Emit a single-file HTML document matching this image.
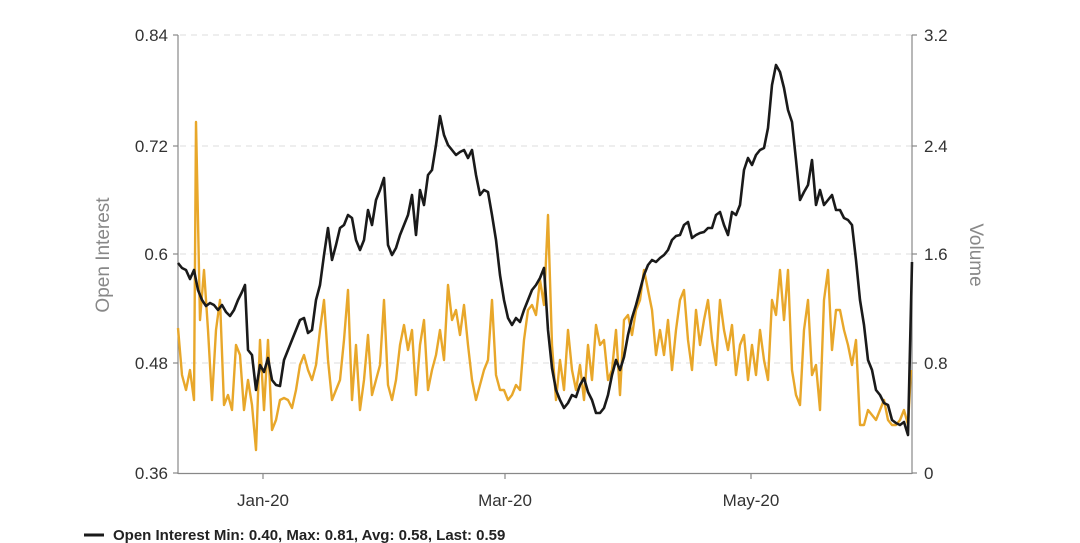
<!DOCTYPE html>
<html><head><style>body{margin:0;background:#fff}svg{display:block;font-family:"Liberation Sans",sans-serif}</style></head><body>
<svg width="1080" height="543" viewBox="0 0 1080 543">
<g stroke="#ddd" stroke-dasharray="6,5" stroke-width="1">
<line x1="180" y1="35" x2="912" y2="35"/><line x1="180" y1="146" x2="912" y2="146"/><line x1="180" y1="254" x2="912" y2="254"/><line x1="180" y1="363" x2="912" y2="363"/></g>
<g stroke="#888" stroke-width="1.2" fill="none">
<line x1="178" y1="35" x2="178" y2="474"/><line x1="912" y1="35" x2="912" y2="474"/><line x1="178" y1="473.5" x2="912" y2="473.5"/>
<line x1="173" y1="35" x2="178" y2="35"/><line x1="173" y1="146" x2="178" y2="146"/><line x1="173" y1="254" x2="178" y2="254"/><line x1="173" y1="363" x2="178" y2="363"/><line x1="173" y1="473" x2="178" y2="473"/>
<line x1="912" y1="35" x2="917" y2="35"/><line x1="912" y1="146" x2="917" y2="146"/><line x1="912" y1="254" x2="917" y2="254"/><line x1="912" y1="363" x2="917" y2="363"/><line x1="912" y1="473" x2="917" y2="473"/>
<line x1="263" y1="473" x2="263" y2="479"/><line x1="505" y1="473" x2="505" y2="479"/><line x1="751" y1="473" x2="751" y2="479"/></g>
<g font-size="17" fill="#333" text-anchor="end">
<text x="168" y="41">0.84</text><text x="168" y="152">0.72</text><text x="168" y="260">0.6</text><text x="168" y="369">0.48</text><text x="168" y="479">0.36</text></g>
<g font-size="17" fill="#333">
<text x="924" y="41">3.2</text><text x="924" y="152">2.4</text><text x="924" y="260">1.6</text><text x="924" y="369">0.8</text><text x="924" y="479">0</text></g>
<g font-size="17" fill="#333" text-anchor="middle">
<text x="263" y="506">Jan-20</text><text x="505" y="506">Mar-20</text><text x="751" y="506">May-20</text></g>
<text transform="translate(109,255) rotate(-90)" font-size="19" fill="#888" text-anchor="middle">Open Interest</text>
<text transform="translate(970,255) rotate(90)" font-size="19" fill="#888" text-anchor="middle">Volume</text>
<polyline fill="none" stroke="#e8a72a" stroke-width="2.4" stroke-linejoin="round" points="178,328 182,375 186,390 190,370 194,400 196,122 200,320 204,270 208,330 212,400 216,330 220,300 224,405 228,395 232,410 236,345 240,355 244,410 248,380 252,405 256,450 260,340 264,410 268,340 272,430 276,420 280,400 284,398 288,400 292,408 296,390 300,365 304,355 308,370 312,380 316,365 320,330 324,300 328,360 332,400 336,390 340,380 344,340 348,290 352,400 356,345 360,410 364,380 368,335 372,395 376,380 380,365 384,300 388,385 392,400 396,380 400,345 404,325 408,350 412,330 416,395 420,345 424,320 428,390 432,370 436,355 440,330 444,360 448,285 452,320 456,310 460,335 464,305 468,345 472,380 476,400 480,385 484,370 488,360 492,300 496,375 500,390 504,390 508,400 512,395 516,385 520,390 524,340 528,310 532,305 536,315 540,280 544,305 548,215 552,345 556,400 560,360 564,390 568,330 572,370 576,390 580,365 584,400 588,345 592,380 596,325 600,345 604,340 608,380 612,370 616,330 620,395 624,320 628,315 632,335 636,310 640,300 644,270 648,290 652,310 656,355 660,330 664,355 668,320 672,370 676,330 680,300 684,290 688,340 692,370 696,310 700,345 704,320 708,300 712,340 716,365 720,300 724,330 728,350 732,325 736,375 740,345 744,335 748,380 752,345 756,375 760,330 764,360 768,380 772,300 776,315 780,270 784,320 788,270 792,370 796,395 800,405 804,330 808,300 812,375 816,365 820,410 824,300 828,270 832,350 836,310 840,310 844,330 848,345 852,365 856,340 860,425 864,425 868,410 872,415 876,420 880,410 884,400 888,420 892,425 896,425 900,420 904,410 908,425 911,370"/>
<polyline fill="none" stroke="#1a1a1a" stroke-width="2.6" stroke-linejoin="round" points="178,263 182,268 186,270 190,279 194,270 198,290 202,300 206,306 210,303 214,305 218,310 222,305 226,312 230,316 234,310 238,300 242,292 245,285 248,350 252,355 256,390 260,365 264,372 268,358 272,380 276,385 280,386 284,360 288,350 292,340 296,330 300,320 304,318 308,333 312,330 316,300 320,285 324,255 328,228 332,260 336,245 340,228 344,225 348,215 352,218 356,240 360,250 364,240 368,210 372,225 376,200 380,190 384,178 388,245 392,255 396,248 400,235 404,225 408,215 412,195 416,235 420,190 424,205 428,175 432,170 436,145 440,116 444,135 448,145 452,150 456,155 460,152 464,150 468,158 472,150 476,175 480,195 484,190 488,192 492,215 496,240 500,275 504,300 508,318 512,325 516,318 520,322 524,310 528,300 532,290 536,285 540,278 544,268 548,330 552,368 556,390 560,400 564,408 568,403 572,395 576,397 580,385 584,378 588,392 592,400 596,413 600,413 604,408 608,395 612,375 616,360 620,370 624,357 628,335 632,318 636,305 640,290 644,275 648,265 652,260 656,262 660,258 664,255 668,250 672,240 676,236 680,235 684,225 688,222 692,238 696,235 700,233 704,232 708,228 712,228 716,215 720,212 724,225 728,235 732,212 736,215 740,205 744,170 748,158 752,165 756,155 760,150 764,148 768,128 772,85 776,65 780,72 784,88 788,110 792,122 796,160 800,200 804,192 808,185 812,160 816,205 820,190 824,205 828,200 832,195 836,210 840,210 844,218 848,220 852,225 856,260 860,300 864,325 868,360 872,370 876,390 880,395 884,403 888,405 892,420 896,423 900,425 904,422 908,435 912,262"/>
<line x1="84" y1="535" x2="104" y2="535" stroke="#1a1a1a" stroke-width="3"/>
<text x="113" y="540" font-size="15" font-weight="bold" fill="#222">Open Interest Min: 0.40, Max: 0.81, Avg: 0.58, Last: 0.59</text>
</svg>
</body></html>
